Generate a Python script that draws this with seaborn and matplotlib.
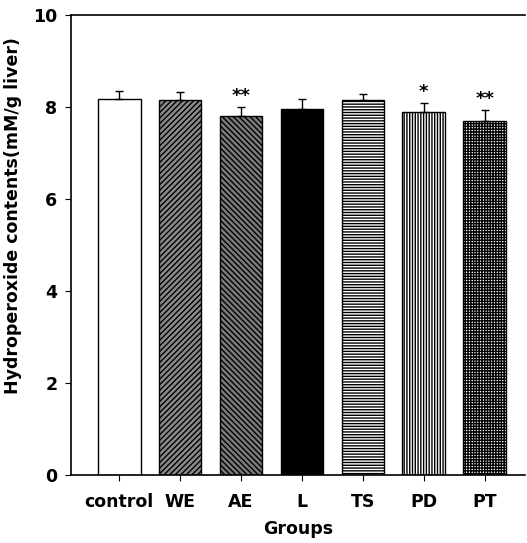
import matplotlib
matplotlib.use("Agg")
import matplotlib.pyplot as plt
import seaborn as sns
import pandas as pd
import numpy as np

groups = ["control", "WE", "AE", "L", "TS", "PD", "PT"]
values = [8.18, 8.16, 7.81, 7.96, 8.16, 7.89, 7.70]
errors = [0.18, 0.17, 0.19, 0.22, 0.13, 0.20, 0.24]
signif = ["", "", "**", "", "", "*", "**"]
yticks = [0, 2, 4, 6, 8, 10]

sns.set_style("ticks")
plt.rcParams["font.family"] = ["DejaVu Sans"]
plt.rcParams["font.weight"] = "bold"
plt.rcParams["hatch.linewidth"] = 1.0
plt.rcParams["text.color"] = "black"
plt.rcParams["axes.labelcolor"] = "black"
plt.rcParams["xtick.color"] = "black"
plt.rcParams["ytick.color"] = "black"

df = pd.DataFrame({"group": groups, "value": values})

fig = plt.figure(figsize=(5.27, 5.43), dpi=100)
ax = fig.add_axes([0.135, 0.125, 0.861, 0.847])

sns.barplot(data=df, x="group", y="value", order=groups, color="white",
            width=0.7, edgecolor="black", linewidth=1.0, errorbar=None, ax=ax)

faces = ["white", "#8a8a8a", "#7a7a7a", "black", "white", "white", "white"]
hatches = [None, "//////", "\\\\\\\\\\\\", None, "------", "||||||", "++++++"]
for p, fc, h in zip(ax.patches, faces, hatches):
    p.set_facecolor(fc)
    p.set_edgecolor("black")
    if h:
        p.set_hatch(h)

x = np.arange(len(groups))
ax.errorbar(x, values, yerr=[np.zeros(len(errors)), errors], fmt="none",
            ecolor="black", elinewidth=1.0, capsize=3, capthick=1.0)
for xi, v, e, s in zip(x, values, errors, signif):
    if s:
        ax.text(xi, v + e + 0.04, s, ha="center", va="bottom",
                fontsize=13, fontweight="bold")

ax.set_ylim(0, 10)
ax.set_xlim(-0.79, 6.66)
ax.set_yticks(yticks)
ax.set_yticklabels([str(t) for t in yticks])
ax.tick_params(axis="y", labelsize=12.5, length=4, width=0.8, direction="out", pad=6)
ax.tick_params(axis="x", labelsize=12.5, length=4, width=0.8, direction="out", pad=9)
for lbl in ax.get_xticklabels() + ax.get_yticklabels():
    lbl.set_fontweight("bold")
ax.set_xlabel("Groups", fontsize=12.5, fontweight="bold", labelpad=6)
ax.set_ylabel("Hydroperoxide contents(mM/g liver)", fontsize=12.5, fontweight="bold")
ax.yaxis.set_label_coords(-0.108, 0.565)

ax.spines["right"].set_visible(False)
for s in ["left", "bottom", "top"]:
    ax.spines[s].set_linewidth(1.2)
    ax.spines[s].set_color("black")

fig.savefig("out.png", dpi=100)
